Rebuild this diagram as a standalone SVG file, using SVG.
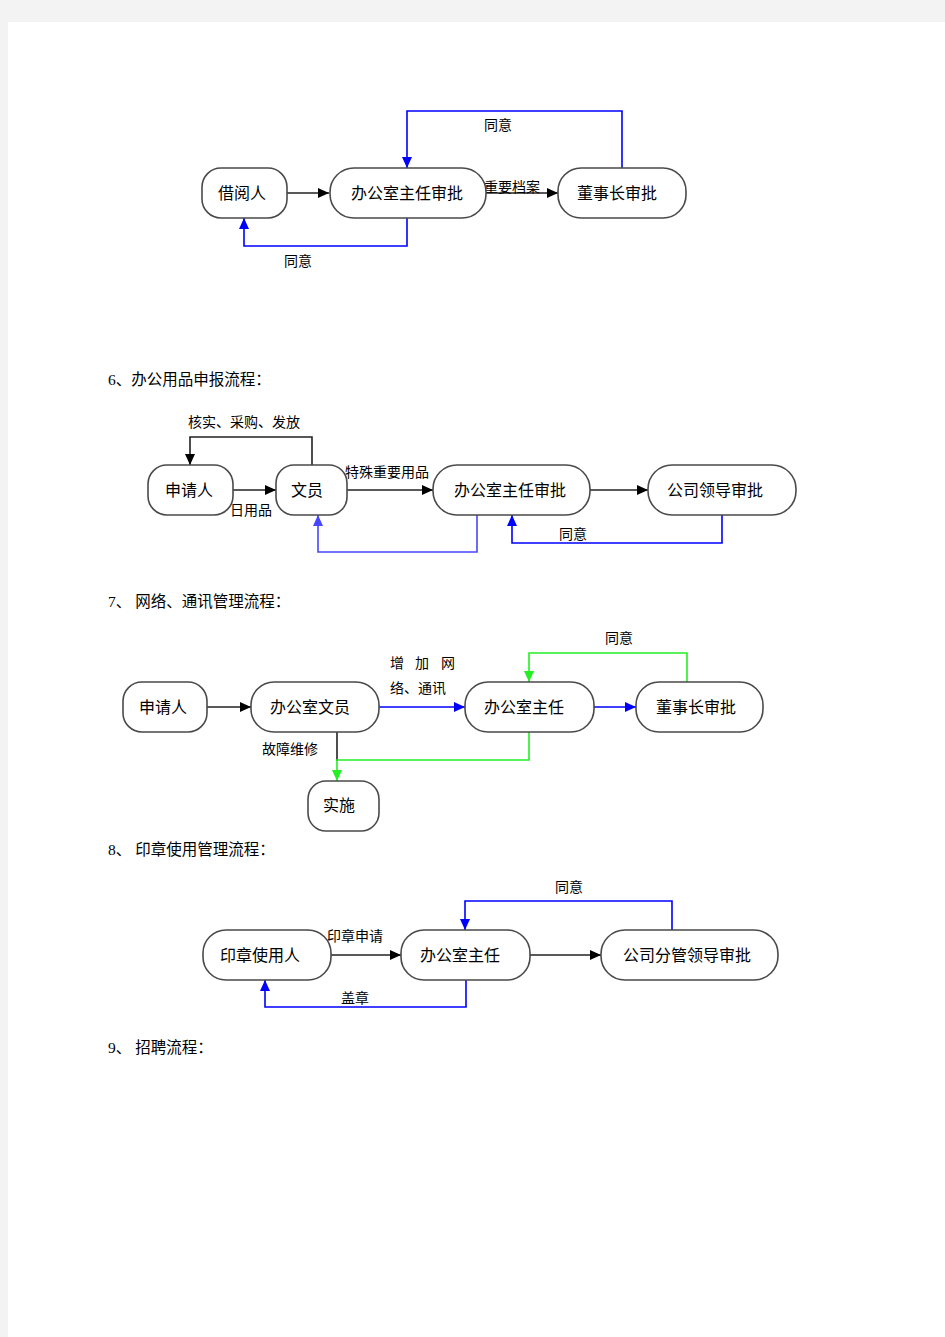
<svg xmlns="http://www.w3.org/2000/svg" width="945" height="1337" viewBox="0 0 945 1337">
<style>
.node{fill:#ffffff;stroke:#4a4a4a;stroke-width:1.6}
.t{font-family:"Noto Sans CJK SC","Liberation Sans",sans-serif;font-size:16px;fill:#000;text-anchor:middle}
.l{font-family:"Noto Sans CJK SC","Liberation Sans",sans-serif;font-size:14px;fill:#000}
.h{font-family:"Liberation Serif","Noto Sans CJK SC",serif;font-size:15.5px;fill:#000}
.k{fill:none;stroke:#222;stroke-width:1.6}
.b{fill:none;stroke:#0000ff;stroke-width:1.6}
.b2{fill:none;stroke:#4646ff;stroke-width:1.6}
.g{fill:none;stroke:#22f022;stroke-width:1.6}
</style>
<defs>
<marker id="ak" markerUnits="userSpaceOnUse" markerWidth="11" markerHeight="10" refX="11" refY="5" orient="auto"><path d="M0,0 L11,5 L0,10 z" fill="#000"/></marker>
<marker id="ab" markerUnits="userSpaceOnUse" markerWidth="11" markerHeight="10" refX="11" refY="5" orient="auto"><path d="M0,0 L11,5 L0,10 z" fill="#0000ff"/></marker>
<marker id="ab2" markerUnits="userSpaceOnUse" markerWidth="11" markerHeight="10" refX="11" refY="5" orient="auto"><path d="M0,0 L11,5 L0,10 z" fill="#4646ff"/></marker>
<marker id="ag" markerUnits="userSpaceOnUse" markerWidth="11" markerHeight="10" refX="11" refY="5" orient="auto"><path d="M0,0 L11,5 L0,10 z" fill="#22f022"/></marker>
</defs>
<rect x="0" y="0" width="945" height="1337" fill="#f3f3f3"/>
<rect x="8" y="22" width="937" height="1315" fill="#ffffff"/>

<!-- headings -->
<text class="h" x="108" y="385">6、办公用品申报流程：</text>
<text class="h" x="108" y="607">7、 网络、通讯管理流程：</text>
<text class="h" x="108" y="855">8、 印章使用管理流程：</text>
<text class="h" x="108" y="1053">9、 招聘流程：</text>

<g id="connectors">
<!-- diagram 1 -->
<line class="k" x1="287" y1="193" x2="329" y2="193" marker-end="url(#ak)"/>
<line class="k" x1="486" y1="193" x2="558" y2="193" marker-end="url(#ak)"/>
<polyline class="b" points="622,168 622,111 407,111 407,168" marker-end="url(#ab)"/>
<polyline class="b" points="407,218 407,246 244,246 244,218" marker-end="url(#ab)"/>
<!-- diagram 6 -->
<line class="k" x1="233" y1="490" x2="276" y2="490" marker-end="url(#ak)"/>
<line class="k" x1="347" y1="490" x2="433" y2="490" marker-end="url(#ak)"/>
<line class="k" x1="590" y1="490" x2="648" y2="490" marker-end="url(#ak)"/>
<polyline class="k" points="312,465 312,437 190,437 190,465" marker-end="url(#ak)"/>
<polyline class="b2" points="477,515 477,552 318,552 318,515" marker-end="url(#ab2)"/>
<polyline class="b" points="722,515 722,543 512,543 512,515" marker-end="url(#ab)"/>
<!-- diagram 7 -->
<line class="k" x1="207" y1="707" x2="251" y2="707" marker-end="url(#ak)"/>
<line class="b" x1="379" y1="707" x2="465" y2="707" marker-end="url(#ab)"/>
<line class="b" x1="594" y1="707" x2="636" y2="707" marker-end="url(#ab)"/>
<polyline class="g" points="687,682 687,653 529,653 529,682" marker-end="url(#ag)"/>
<line class="k" x1="337" y1="732" x2="337" y2="761"/>
<polyline class="g" points="529,732 529,760 337,760 337,781" marker-end="url(#ag)"/>
<!-- diagram 8 -->
<line class="k" x1="331" y1="955" x2="401" y2="955" marker-end="url(#ak)"/>
<line class="k" x1="530" y1="955" x2="601" y2="955" marker-end="url(#ak)"/>
<polyline class="b" points="672,930 672,901 465,901 465,930" marker-end="url(#ab)"/>
<polyline class="b" points="466,980 466,1007 265,1007 265,980" marker-end="url(#ab)"/>
</g>

<g id="labels">
<text class="l" x="498" y="130" text-anchor="middle">同意</text>
<text class="l" x="512" y="192" text-anchor="middle">重要档案</text>
<text class="l" x="298" y="266" text-anchor="middle">同意</text>
<text class="l" x="244" y="427" text-anchor="middle">核实、采购、发放</text>
<text class="l" x="387" y="477" text-anchor="middle">特殊重要用品</text>
<text class="l" x="251" y="515" text-anchor="middle">日用品</text>
<text class="l" x="573" y="539" text-anchor="middle">同意</text>
<text class="l" x="390 415 441" y="668">增加网</text>
<text class="l" x="390" y="693">络、通讯</text>
<text class="l" x="619" y="643" text-anchor="middle">同意</text>
<text class="l" x="290" y="754" text-anchor="middle">故障维修</text>
<text class="l" x="569" y="892" text-anchor="middle">同意</text>
<text class="l" x="355" y="941" text-anchor="middle">印章申请</text>
<text class="l" x="355" y="1003" text-anchor="middle">盖章</text>
</g>

<!-- diagram 1 nodes -->
<g id="n1-jieyueren"><rect class="node" x="202" y="168" width="85" height="50" rx="19"/><text class="t" x="242" y="199">借阅人</text></g>
<g id="n1-bangongshi"><rect class="node" x="330" y="168" width="156" height="50" rx="24"/><text class="t" x="407" y="199">办公室主任审批</text></g>
<g id="n1-dongshizhang"><rect class="node" x="558" y="168" width="128" height="50" rx="23"/><text class="t" x="617" y="199">董事长审批</text></g>

<!-- diagram 6 nodes -->
<g id="n6-shenqingren"><rect class="node" x="148" y="465" width="85" height="50" rx="19"/><text class="t" x="189" y="496">申请人</text></g>
<g id="n6-wenyuan"><rect class="node" x="276" y="465" width="71" height="50" rx="18"/><text class="t" x="307" y="496">文员</text></g>
<g id="n6-bangongshi"><rect class="node" x="433" y="465" width="157" height="50" rx="24"/><text class="t" x="510" y="496">办公室主任审批</text></g>
<g id="n6-gongsi"><rect class="node" x="648" y="465" width="148" height="50" rx="24"/><text class="t" x="715" y="496">公司领导审批</text></g>

<!-- diagram 7 nodes -->
<g id="n7-shenqingren"><rect class="node" x="123" y="682" width="84" height="50" rx="19"/><text class="t" x="163" y="713">申请人</text></g>
<g id="n7-wenyuan"><rect class="node" x="251" y="682" width="128" height="50" rx="23"/><text class="t" x="310" y="713">办公室文员</text></g>
<g id="n7-zhuren"><rect class="node" x="465" y="682" width="129" height="50" rx="23"/><text class="t" x="524" y="713">办公室主任</text></g>
<g id="n7-dongshizhang"><rect class="node" x="636" y="682" width="127" height="50" rx="23"/><text class="t" x="696" y="713">董事长审批</text></g>
<g id="n7-shishi"><rect class="node" x="308" y="781" width="71" height="50" rx="18"/><text class="t" x="339" y="811">实施</text></g>

<!-- diagram 8 nodes -->
<g id="n8-yinzhang"><rect class="node" x="203" y="930" width="128" height="50" rx="23"/><text class="t" x="260" y="961">印章使用人</text></g>
<g id="n8-zhuren"><rect class="node" x="401" y="930" width="129" height="50" rx="23"/><text class="t" x="460" y="961">办公室主任</text></g>
<g id="n8-gongsi"><rect class="node" x="601" y="930" width="177" height="50" rx="24"/><text class="t" x="687" y="961">公司分管领导审批</text></g>
</svg>
